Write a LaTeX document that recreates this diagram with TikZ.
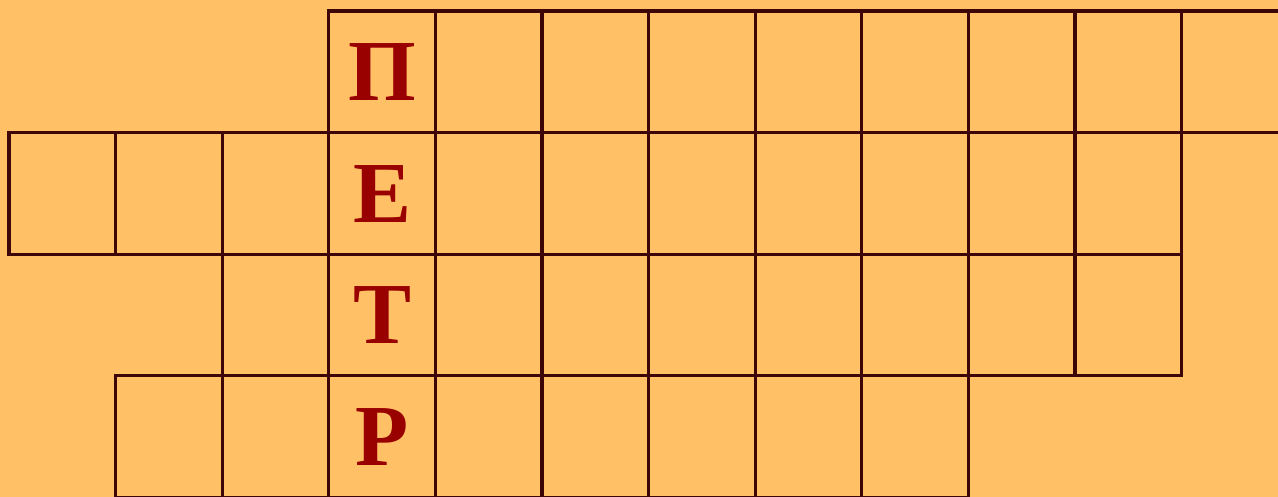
\documentclass[tikz,border=0pt]{standalone}
\usepackage{fontspec}
\setmainfont{Liberation Serif}
\definecolor{bgcol}{HTML}{FFC066}
\definecolor{linecol}{HTML}{3D0505}
\definecolor{lettercol}{HTML}{990000}
\begin{document}
\begin{tikzpicture}[x=1pt,y=-1pt,
  cellbox/.style={draw=linecol, line width=3.2pt, minimum width=106.6pt, minimum height=121.6pt, inner sep=0pt, outer sep=0pt, anchor=north west},
  letter/.style={text=lettercol, font=\fontsize{87}{87}\selectfont\bfseries, inner sep=0pt, anchor=base}]
\fill[bgcol] (0,0) rectangle (1278,497);
\useasboundingbox (0,0) rectangle (1278,497);
\clip (0,0) rectangle (1278,497);
% row 1: columns 3..11
\foreach \c in {3,...,11} \node[cellbox] (r1c\c) at ({9+\c*106.6},11) {};
% row 2: columns 0..10
\foreach \c in {0,...,10} \node[cellbox] (r2c\c) at ({9+\c*106.6},132.6) {};
% row 3: columns 2..10
\foreach \c in {2,...,10} \node[cellbox] (r3c\c) at ({9+\c*106.6},254.2) {};
% row 4: columns 1..8
\foreach \c in {1,...,8} \node[cellbox] (r4c\c) at ({9+\c*106.6},375.8) {};
% letters
\node[letter] (l1) at ([yshift=-29pt]r1c3.center) {П};
\node[letter] (l2) at ([yshift=-29pt]r2c3.center) {Е};
\node[letter] (l3) at ([yshift=-29pt]r3c3.center) {Т};
\node[letter] (l4) at ([yshift=-29pt]r4c3.center) {Р};
\end{tikzpicture}
\end{document}
